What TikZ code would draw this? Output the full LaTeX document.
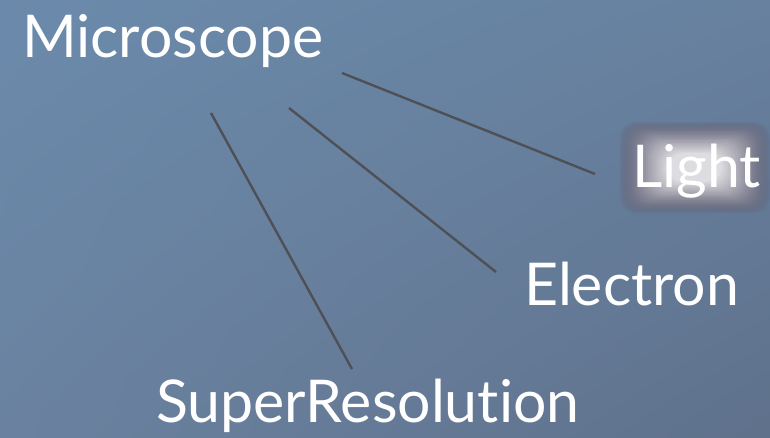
\documentclass[tikz,border=0pt]{standalone}
\usepackage{fontspec}
\setmainfont{Lato}[Ligatures=NoCommon]
\usetikzlibrary{shadings}
\definecolor{bgtl}{RGB}{107,138,171}
\definecolor{bgtr}{RGB}{103,129,159}
\definecolor{bgbl}{RGB}{106,130,160}
\definecolor{bgbr}{RGB}{95,113,139}
\definecolor{linkgray}{RGB}{78,80,86}
\definecolor{glowdark}{RGB}{98,96,116}
\tikzset{
	word/.style={text=white, inner sep=0pt, anchor=base west, font=\fontsize{59}{59}\selectfont},
	link/.style={draw=linkgray, line width=2.4pt}
}
\begin{document}
\begin{tikzpicture}[x=1pt,y=-1pt]
	\shade[upper left=bgtl, upper right=bgtr, lower left=bgbl, lower right=bgbr] (0,0) rectangle (770,437);
	\useasboundingbox (0,0) rectangle (770,437);
	% glow behind Light
	\foreach \i [evaluate=\i as \p using int(\i*4)] in {0,...,24}
		\fill[white!\p!glowdark, opacity=0.2, rounded corners=16pt] (620+\i*2,122+\i*1.3) rectangle (770-\i*2,213-\i*1.3);
	\node[word] (micro) at (22,57) {Microscope};
	\node[word] (light) at (632,187) {Light};
	\node[word] (electron) at (524,305) {Electron};
	\node[word] (superres) at (156,422) {SuperResolution};
	\coordinate (m-light) at (342,73);
	\coordinate (m-electron) at (289,108);
	\coordinate (m-superres) at (211,113);
	\coordinate (light-end) at (595,174);
	\coordinate (electron-end) at (496,272);
	\coordinate (superres-end) at (352,369);
	\draw[link] (m-light) -- (light-end);
	\draw[link] (m-electron) -- (electron-end);
	\draw[link] (m-superres) -- (superres-end);
\end{tikzpicture}
\end{document}
